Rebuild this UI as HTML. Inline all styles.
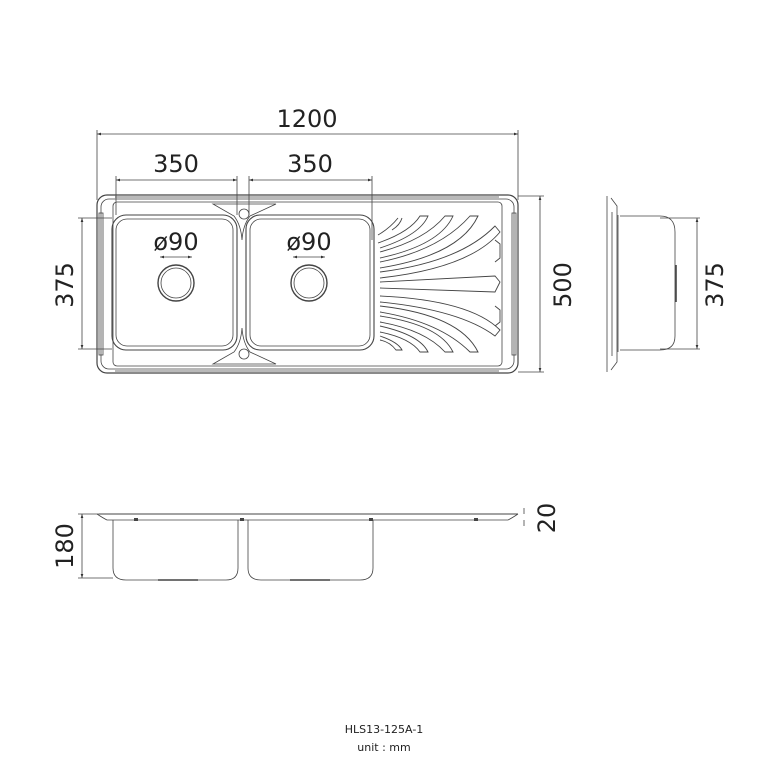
<!DOCTYPE html>
<html><head><meta charset="utf-8"><style>
html,body{margin:0;padding:0;background:#fff;}
svg{display:block;}
text{font-family:"DejaVu Sans","Liberation Sans",sans-serif;fill:#222;}
</style></head><body>
<svg width="768" height="768" viewBox="0 0 768 768" xmlns="http://www.w3.org/2000/svg">
<defs>
<marker id="a" viewBox="0 0 6 6" refX="6" refY="3" markerWidth="5" markerHeight="5" orient="auto-start-reverse"><path d="M0,1 L6,3 L0,5z" fill="#333"/></marker>
</defs>
<g fill="none" stroke="#444" stroke-width="0.8">
<!-- dimension lines top -->
<line x1="97" y1="134" x2="518" y2="134" marker-start="url(#a)" marker-end="url(#a)"/>
<line x1="97" y1="130" x2="97" y2="200"/>
<line x1="518" y1="130" x2="518" y2="200"/>
<line x1="116" y1="180" x2="237" y2="180" marker-start="url(#a)" marker-end="url(#a)"/>
<line x1="249" y1="180" x2="372" y2="180" marker-start="url(#a)" marker-end="url(#a)"/>
<line x1="116" y1="176" x2="116" y2="215"/>
<line x1="237" y1="176" x2="237" y2="215"/>
<line x1="249" y1="176" x2="249" y2="215"/>
<line x1="372" y1="176" x2="372" y2="240"/>
<line x1="82" y1="218" x2="82" y2="349" marker-start="url(#a)" marker-end="url(#a)"/>
<line x1="78" y1="218" x2="112" y2="218"/>
<line x1="78" y1="349" x2="112" y2="349"/>
<line x1="540" y1="196" x2="540" y2="372" marker-start="url(#a)" marker-end="url(#a)"/>
<line x1="518" y1="196" x2="544" y2="196"/>
<line x1="518" y1="372" x2="544" y2="372"/>
<!-- top view sink -->
<rect x="97" y="195" width="421" height="178" rx="10" stroke-width="1.2"/>
<rect x="101" y="199" width="413" height="170" rx="8"/>
<rect x="113" y="202" width="389" height="164" rx="4"/>
<line x1="115" y1="197" x2="499" y2="197"/>
<line x1="115" y1="371" x2="499" y2="371"/>
<rect x="99" y="213" width="4" height="142"/>
<rect x="512" y="213" width="4" height="142"/>
<rect x="112" y="215" width="125" height="135" rx="14" stroke-width="1.1"/>
<rect x="116" y="219" width="117" height="127" rx="11"/>
<rect x="246" y="215" width="128" height="135" rx="14" stroke-width="1.1"/>
<rect x="250" y="219" width="120" height="127" rx="11"/>
<circle cx="176" cy="283" r="18" stroke-width="1.4"/><circle cx="176" cy="283" r="15"/>
<circle cx="309" cy="283" r="18" stroke-width="1.4"/><circle cx="309" cy="283" r="15"/>
<line x1="160" y1="257" x2="192" y2="257" marker-start="url(#a)" marker-end="url(#a)"/>
<line x1="293" y1="257" x2="325" y2="257" marker-start="url(#a)" marker-end="url(#a)"/>
<path d="M213,204 L276,204 L250,216 Q243,225 242,240 Q241,225 234,216 Z"/>
<path d="M213,364 L276,364 L250,352 Q243,343 242,328 Q241,343 234,352 Z"/>
<circle cx="244" cy="214" r="5"/><circle cx="244" cy="354" r="5"/>
<!-- drainboard ribs -->
<g stroke-width="0.9">
<path d="M378,235 Q390,228 398,218"/><path d="M392,230 Q400,225 402,218"/>
<path d="M378,243 Q410,232 420,216 L428,216 Q420,235 380,248"/>
<path d="M380,252 Q425,240 445,216 L453,216 Q440,245 380,258"/>
<path d="M380,262 Q440,250 470,216 L478,216 Q460,255 380,268"/>
<path d="M380,272 Q460,262 495,226 L500,232 Q470,268 380,278"/>
<path d="M380,282 L495,276 L500,282 L495,292 L380,288"/>
<path d="M380,296 Q470,300 500,330 L495,336 Q460,310 380,302"/>
<path d="M380,306 Q460,315 478,352 L470,352 Q440,322 380,312"/>
<path d="M380,316 Q440,325 453,352 L445,352 Q425,330 380,322"/>
<path d="M380,326 Q420,335 428,352 L420,352 Q410,338 380,332"/>
<path d="M380,336 Q398,342 402,350 L396,350 Q390,342 380,340"/>
<path d="M495,240 L500,244 L500,258 L495,262"/><path d="M495,306 L500,310 L500,322 L495,326"/>
</g>
<!-- side view -->
<line x1="607" y1="196" x2="607" y2="372"/>
<path d="M611,198 L617,206 L617,362 L611,370"/>
<line x1="612" y1="212" x2="612" y2="356"/>
<line x1="618" y1="215" x2="618" y2="352"/>
<path d="M620,216 L660,216 Q675,216 675,232 L675,336 Q675,350 660,350 L620,350"/>
<line x1="676" y1="265" x2="676" y2="302" stroke-width="1.6"/>
<line x1="697" y1="218" x2="697" y2="349" marker-start="url(#a)" marker-end="url(#a)"/>
<line x1="660" y1="218" x2="700" y2="218"/><line x1="660" y1="349" x2="700" y2="349"/>
<!-- front view -->
<line x1="99" y1="514" x2="518" y2="514" stroke-width="1.1"/>
<line x1="113" y1="520" x2="500" y2="520"/>
<path d="M97,514 Q103,518 107,520 L113,520"/><path d="M518,514 Q512,518 508,520 L500,520"/>
<path d="M113,520 L113,568 Q113,580 126,580 L226,580 Q238,580 238,568 L238,520"/>
<path d="M248,520 L248,568 Q248,580 261,580 L360,580 Q373,580 373,568 L373,520"/>
<line x1="158" y1="580" x2="198" y2="580" stroke-width="1.6"/>
<line x1="290" y1="580" x2="330" y2="580" stroke-width="1.6"/>
<line x1="82" y1="514" x2="82" y2="578" marker-start="url(#a)" marker-end="url(#a)"/>
<line x1="78" y1="514" x2="100" y2="514"/><line x1="78" y1="578" x2="113" y2="578"/>
<line x1="524" y1="508" x2="524" y2="514"/><line x1="524" y1="520" x2="524" y2="526"/>
</g>
<g fill="#444"><rect x="134" y="518" width="4" height="3"/><rect x="369" y="518" width="4" height="3"/><rect x="474" y="518" width="4" height="3"/><rect x="240" y="518" width="4" height="3"/></g>
<g font-size="24">
<text x="307" y="127" text-anchor="middle">1200</text>
<text x="176" y="172" text-anchor="middle">350</text>
<text x="310" y="172" text-anchor="middle">350</text>
<text x="176" y="250" text-anchor="middle">ø90</text>
<text x="309" y="250" text-anchor="middle">ø90</text>
<text transform="translate(73,285) rotate(-90)" text-anchor="middle">375</text>
<text transform="translate(571,285) rotate(-90)" text-anchor="middle">500</text>
<text transform="translate(723,285) rotate(-90)" text-anchor="middle">375</text>
<text transform="translate(73,546) rotate(-90)" text-anchor="middle">180</text>
<text transform="translate(555,518) rotate(-90)" text-anchor="middle">20</text>
</g>
<text x="384" y="733" font-size="11" text-anchor="middle">HLS13-125A-1</text>
<text x="384" y="751" font-size="11" text-anchor="middle">unit : mm</text>
</svg>
</body></html>
